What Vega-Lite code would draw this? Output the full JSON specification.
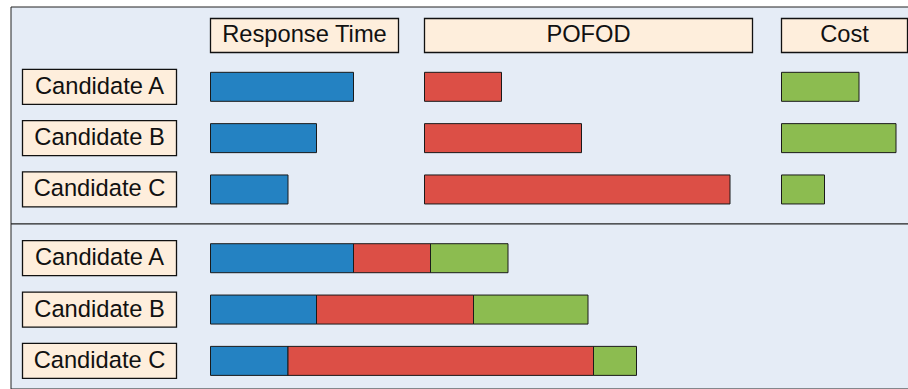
{
  "$schema": "https://vega.github.io/schema/vega-lite/v6.json",
  "padding": {"left": 9.5, "top": 5.5, "right": 0, "bottom": 0},
  "background": "white",
  "bounds": "flush",
  "spacing": 0,
  "datasets": {
    "scores": [
      {"candidate": "Candidate A", "metric": "Response Time", "value": 14.3},
      {"candidate": "Candidate B", "metric": "Response Time", "value": 10.6},
      {"candidate": "Candidate C", "metric": "Response Time", "value": 7.75},
      {"candidate": "Candidate A", "metric": "POFOD", "value": 7.7},
      {"candidate": "Candidate B", "metric": "POFOD", "value": 15.7},
      {"candidate": "Candidate C", "metric": "POFOD", "value": 30.55},
      {"candidate": "Candidate A", "metric": "Cost", "value": 7.75},
      {"candidate": "Candidate B", "metric": "Cost", "value": 11.45},
      {"candidate": "Candidate C", "metric": "Cost", "value": 4.3}
    ],
    "metrics": [
      {"metric": "Response Time"},
      {"metric": "POFOD"},
      {"metric": "Cost"}
    ]
  },
  "resolve": {"scale": {"x": "independent", "y": "independent"}},
  "vconcat": [
    {
      "width": 898,
      "height": 217,
      "data": {"name": "scores"},
      "encoding": {
        "y": {"field": "candidate", "type": "nominal", "axis": null,
          "scale": {"domain": ["Metric", "Candidate A", "Candidate B", "Candidate C"], "paddingInner": 0.318, "paddingOuter": 0.273, "align": 0.41}}
      },
      "layer": [
        {
          "transform": [{"filter": "datum.metric === 'Response Time'"}],
          "mark": {"type": "bar", "height": 35, "fill": "#feeedc", "stroke": "#111", "strokeWidth": 1.3},
          "encoding": {
            "x": {"datum": -18.8, "type": "quantitative", "axis": null, "scale": {"domain": [-20, 69.8], "nice": false, "zero": false}},
            "x2": {"datum": -3.4}
          }
        },
        {
          "transform": [{"filter": "datum.metric === 'Response Time'"}],
          "mark": {"type": "text", "fontSize": 23.7, "font": "Liberation Sans", "align": "center", "baseline": "middle", "color": "#111"},
          "encoding": {
            "x": {"datum": -11.1, "type": "quantitative", "axis": null, "scale": {"domain": [-20, 69.8], "nice": false, "zero": false}},
            "text": {"field": "candidate"}
          }
        },
        {
          "data": {"name": "metrics"},
          "transform": [{"filter": "datum.metric === 'Response Time'"}],
          "mark": {"type": "bar", "height": 34, "fill": "#feeedc", "stroke": "#111", "strokeWidth": 1.3},
          "encoding": {
            "y": {"datum": "Metric", "type": "nominal"},
            "x": {"datum": 0, "type": "quantitative", "axis": null, "scale": {"domain": [-20, 69.8], "nice": false, "zero": false}},
            "x2": {"datum": 18.8}
          }
        },
        {
          "data": {"name": "metrics"},
          "transform": [{"filter": "datum.metric === 'Response Time'"}],
          "mark": {"type": "text", "fontSize": 23.7, "font": "Liberation Sans", "align": "center", "baseline": "middle", "color": "#111"},
          "encoding": {
            "y": {"datum": "Metric", "type": "nominal"},
            "x": {"datum": 9.4, "type": "quantitative", "axis": null, "scale": {"domain": [-20, 69.8], "nice": false, "zero": false}},
            "text": {"field": "metric"}
          }
        },
        {
          "data": {"name": "metrics"},
          "transform": [{"filter": "datum.metric === 'POFOD'"}],
          "mark": {"type": "bar", "height": 34, "fill": "#feeedc", "stroke": "#111", "strokeWidth": 1.3, "xOffset": 214, "x2Offset": 214},
          "encoding": {
            "y": {"datum": "Metric", "type": "nominal"},
            "x": {"datum": 0, "type": "quantitative", "axis": null, "scale": {"domain": [-20, 69.8], "nice": false, "zero": false}},
            "x2": {"datum": 32.8}
          }
        },
        {
          "data": {"name": "metrics"},
          "transform": [{"filter": "datum.metric === 'POFOD'"}],
          "mark": {"type": "text", "fontSize": 23.7, "font": "Liberation Sans", "align": "center", "baseline": "middle", "color": "#111", "xOffset": 214},
          "encoding": {
            "y": {"datum": "Metric", "type": "nominal"},
            "x": {"datum": 16.4, "type": "quantitative", "axis": null, "scale": {"domain": [-20, 69.8], "nice": false, "zero": false}},
            "text": {"field": "metric"}
          }
        },
        {
          "data": {"name": "metrics"},
          "transform": [{"filter": "datum.metric === 'Cost'"}],
          "mark": {"type": "bar", "height": 34, "fill": "#feeedc", "stroke": "#111", "strokeWidth": 1.3, "xOffset": 571, "x2Offset": 571},
          "encoding": {
            "y": {"datum": "Metric", "type": "nominal"},
            "x": {"datum": 0, "type": "quantitative", "axis": null, "scale": {"domain": [-20, 69.8], "nice": false, "zero": false}},
            "x2": {"datum": 12.6}
          }
        },
        {
          "data": {"name": "metrics"},
          "transform": [{"filter": "datum.metric === 'Cost'"}],
          "mark": {"type": "text", "fontSize": 23.7, "font": "Liberation Sans", "align": "center", "baseline": "middle", "color": "#111", "xOffset": 571},
          "encoding": {
            "y": {"datum": "Metric", "type": "nominal"},
            "x": {"datum": 6.3, "type": "quantitative", "axis": null, "scale": {"domain": [-20, 69.8], "nice": false, "zero": false}},
            "text": {"field": "metric"}
          }
        },
        {
          "transform": [{"filter": "datum.metric === 'Response Time'"}],
          "mark": {"type": "bar", "height": 29, "stroke": "#1a1a1a", "strokeWidth": 1},
          "encoding": {
            "x": {"field": "value", "type": "quantitative", "axis": null, "scale": {"domain": [-20, 69.8], "nice": false, "zero": false}},
            "color": {"field": "metric", "type": "nominal", "legend": null, "scale": {"domain": ["Response Time", "POFOD", "Cost"], "range": ["#2482c2", "#dc4f46", "#8cbc50"]}}
          }
        },
        {
          "transform": [{"filter": "datum.metric === 'POFOD'"}],
          "mark": {"type": "bar", "height": 29, "stroke": "#1a1a1a", "strokeWidth": 1, "xOffset": 214, "x2Offset": 214},
          "encoding": {
            "x": {"field": "value", "type": "quantitative", "axis": null, "scale": {"domain": [-20, 69.8], "nice": false, "zero": false}},
            "color": {"field": "metric", "type": "nominal", "legend": null, "scale": {"domain": ["Response Time", "POFOD", "Cost"], "range": ["#2482c2", "#dc4f46", "#8cbc50"]}}
          }
        },
        {
          "transform": [{"filter": "datum.metric === 'Cost'"}],
          "mark": {"type": "bar", "height": 29, "stroke": "#1a1a1a", "strokeWidth": 1, "xOffset": 571, "x2Offset": 571},
          "encoding": {
            "x": {"field": "value", "type": "quantitative", "axis": null, "scale": {"domain": [-20, 69.8], "nice": false, "zero": false}},
            "color": {"field": "metric", "type": "nominal", "legend": null, "scale": {"domain": ["Response Time", "POFOD", "Cost"], "range": ["#2482c2", "#dc4f46", "#8cbc50"]}}
          }
        }
      ]
    },
    {
      "width": 898,
      "height": 165,
      "data": {"name": "scores"},
      "encoding": {
        "y": {"field": "candidate", "type": "nominal", "axis": null,
          "scale": {"domain": ["Candidate A", "Candidate B", "Candidate C"], "paddingInner": 0.318, "paddingOuter": 0.266, "align": 0.63}}
      },
      "layer": [
        {
          "transform": [{"filter": "datum.metric === 'Response Time'"}],
          "mark": {"type": "bar", "height": 35, "fill": "#feeedc", "stroke": "#111", "strokeWidth": 1.3},
          "encoding": {
            "x": {"datum": -18.8, "type": "quantitative", "axis": null, "scale": {"domain": [-20, 69.8], "nice": false, "zero": false}},
            "x2": {"datum": -3.4}
          }
        },
        {
          "transform": [{"filter": "datum.metric === 'Response Time'"}],
          "mark": {"type": "text", "fontSize": 23.7, "font": "Liberation Sans", "align": "center", "baseline": "middle", "color": "#111"},
          "encoding": {
            "x": {"datum": -11.1, "type": "quantitative", "axis": null, "scale": {"domain": [-20, 69.8], "nice": false, "zero": false}},
            "text": {"field": "candidate"}
          }
        },
        {
          "mark": {"type": "bar", "height": 29, "stroke": "#1a1a1a", "strokeWidth": 1},
          "encoding": {
            "x": {"field": "value", "type": "quantitative", "stack": "zero", "axis": null, "scale": {"domain": [-20, 69.8], "nice": false, "zero": false}},
            "order": {"field": "metric", "sort": "descending"},
            "color": {"field": "metric", "type": "nominal", "legend": null, "scale": {"domain": ["Response Time", "POFOD", "Cost"], "range": ["#2482c2", "#dc4f46", "#8cbc50"]}}
          }
        }
      ]
    }
  ],
  "config": {
    "view": {"stroke": "#222", "strokeWidth": 1, "fill": "#e5ecf6"}
  }
}
